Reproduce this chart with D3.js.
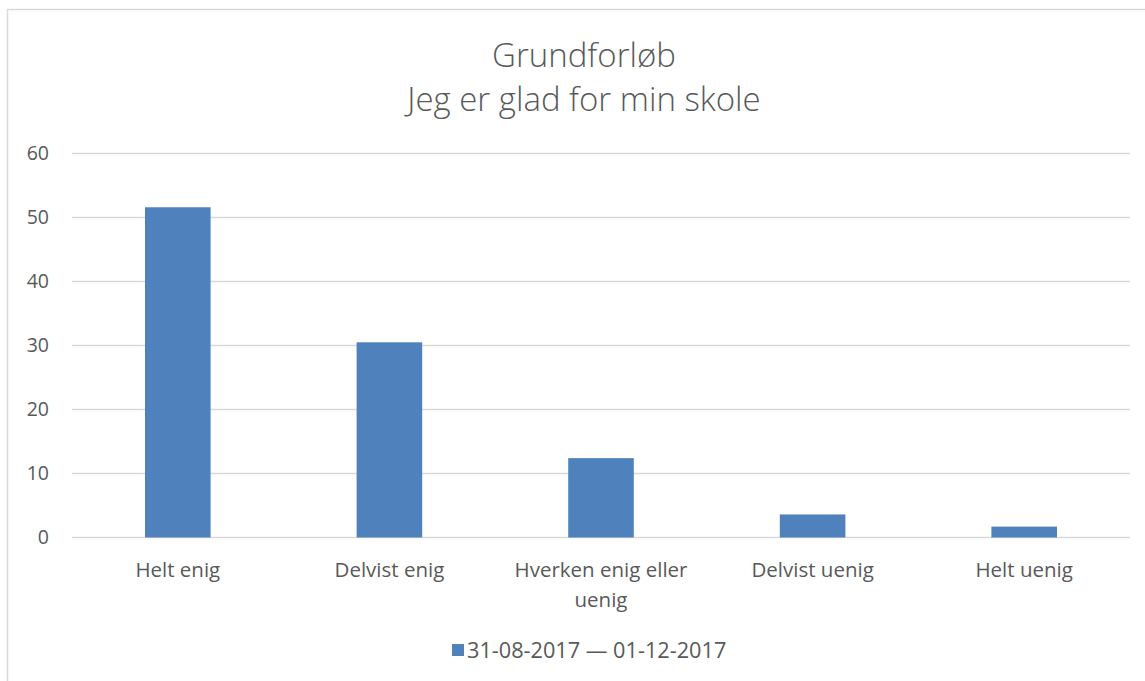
<!DOCTYPE html>
<html>
<head>
<meta charset="utf-8">
<script src="https://cdn.jsdelivr.net/npm/d3@7"></script>
<style>
  body { margin: 0; background: #fff; }
  svg { display: block; font-family: "Open Sans", sans-serif; }
</style>
</head>
<body>
<svg id="chart" width="1145" height="681"></svg>
<script>
// data
var categories = ["Helt enig", "Delvist enig", "Hverken enig eller uenig", "Delvist uenig", "Helt uenig"];
var values = [51.6, 30.5, 12.4, 3.6, 1.7];
var yTicks = [0, 10, 20, 30, 40, 50, 60];
var seriesName = "31-08-2017 \u2014 01-12-2017";
var titleLines = ["Grundforløb", "Jeg er glad for min skole"];

var svg = d3.select("#chart");

var plotLeft = 72, plotRight = 1130, plotTop = 153.5, plotBottom = 537.5;

// chart frame (only top/left edges visible in the crop)
svg.append("rect")
    .attr("x", 7.5)
    .attr("y", 9.5)
    .attr("width", 1160)
    .attr("height", 700)
    .attr("fill", "white")
    .attr("stroke", "#d9d9d9")
    .attr("stroke-width", 1.5);

var x = d3.scaleBand()
    .domain(categories)
    .range([plotLeft, plotRight])
    .paddingInner(0.69)
    .paddingOuter(0.345);

var y = d3.scaleLinear()
    .domain([0, 60])
    .range([plotBottom, plotTop]);

// gridlines
svg.append("g")
    .selectAll("line")
    .data(yTicks)
    .enter()
    .append("line")
    .attr("x1", plotLeft)
    .attr("x2", plotRight)
    .attr("y1", d => y(d))
    .attr("y2", d => y(d))
    .attr("stroke", "#d9d9d9")
    .attr("stroke-width", 1.3);

// y axis labels
var yAxis = d3.axisLeft(y).tickValues(yTicks).tickSize(0).tickPadding(0);
var gy = svg.append("g")
    .attr("transform", "translate(49,0)")
    .call(yAxis);
gy.select(".domain").remove();
gy.selectAll("text")
    .attr("fill", "#595959")
    .style("font-size", "19.5px")
    .style("font-family", "'Open Sans', sans-serif");

// bars
svg.selectAll(".bar")
    .data(values)
    .enter()
    .append("rect")
    .attr("class", "bar")
    .attr("x", (d, i) => x(categories[i]))
    .attr("y", d => y(d))
    .attr("width", x.bandwidth())
    .attr("height", d => y(0) - y(d))
    .attr("fill", "#4f81bd");

// category labels (wrapped like the original)
var xAxis = d3.axisBottom(x).tickSize(0).tickPadding(0);
var gx = svg.append("g")
    .attr("transform", "translate(0," + plotBottom + ")")
    .call(xAxis);
gx.select(".domain").remove();
gx.selectAll("text").each(function(d) {
    var t = d3.select(this);
    t.text(null)
        .attr("y", 0)
        .attr("dy", null)
        .attr("fill", "#595959")
        .style("font-size", "20.5px")
        .style("font-family", "'Open Sans', sans-serif");
    var lines = d == "Hverken enig eller uenig" ? ["Hverken enig eller", "uenig"] : [d];
    lines.forEach(function(l, k) {
        t.append("tspan")
            .attr("x", 0)
            .attr("y", 39 + k * 30)
            .text(l);
    });
});

// title
svg.append("g")
    .selectAll("text")
    .data(titleLines)
    .enter()
    .append("text")
    .attr("x", 584)
    .attr("y", (d, i) => 67 + i * 44)
    .attr("text-anchor", "middle")
    .attr("fill", "#595959")
    .style("font-size", "33px")
    .style("font-weight", 300)
    .text(d => d);

// legend
svg.append("rect")
    .attr("x", 452)
    .attr("y", 644)
    .attr("width", 12)
    .attr("height", 12)
    .attr("fill", "#4f81bd");

svg.append("text")
    .attr("x", 467)
    .attr("y", 658)
    .attr("fill", "#595959")
    .style("font-size", "21.7px")
    .text(seriesName);
</script>
</body>
</html>
